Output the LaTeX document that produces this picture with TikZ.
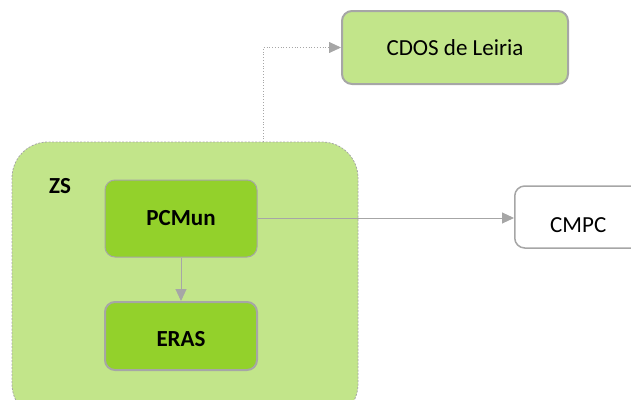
\documentclass[tikz,border=0pt]{standalone}
\usepackage{fontspec}
\setmainfont{Carlito}
\usetikzlibrary{arrows.meta}
\definecolor{palegreen}{HTML}{C2E58A}
\definecolor{leafgreen}{HTML}{93D12B}
\definecolor{edgegray}{HTML}{A6A6A6}
\tikzset{
  box/.style={draw=edgegray, rounded corners=10pt, minimum width=152pt, minimum height=74pt, font=\fontsize{23}{25}\selectfont},
  unit/.style={box, fill=leafgreen, font=\bfseries\fontsize{23}{25}\selectfont},
  link/.style={draw=edgegray, line width=1pt, -{Triangle[length=12pt,width=11pt]}},
}
\begin{document}
\begin{tikzpicture}[x=1pt,y=-1pt]
  \useasboundingbox (0,0) rectangle (631,399);
  % zone container
  \draw[draw=edgegray, line width=0.8pt, dash pattern=on 2pt off 1.5pt, fill=palegreen, rounded corners=36pt]
    (12,142) rectangle (358,420);
  \node[font=\bfseries\fontsize{23}{25}\selectfont, anchor=center] (zs) at (60,186) {ZS};
  \node[box, fill=palegreen, line width=2pt, minimum width=226pt, minimum height=73pt] (cdos) at (455,47.5) {CDOS de Leiria};
  \node[unit, line width=1pt, minimum height=77pt] (pcmun) at (181,218.5) {PCMun};
  \node[unit, line width=2pt, minimum height=68pt,
        label={[font=\bfseries\fontsize{23}{25}\selectfont, yshift=-3pt]center:ERAS}] (eras) at (181,336) {};
  \node[box, fill=white, line width=1.5pt, minimum width=140pt, minimum height=62pt, anchor=west,
        label={[font=\fontsize{23}{25}\selectfont, xshift=-6.5pt, yshift=-8pt]center:CMPC}] (cmpc) at (514,217) {};
  \coordinate (up) at (263,142);
  \draw[link] (pcmun) -- (eras);
  \draw[link] (pcmun.east |- 0,218) -- (cmpc.west |- 0,218);
  \draw[link, line width=0.8pt, dotted] (up) |- (cdos.west);
\end{tikzpicture}
\end{document}
